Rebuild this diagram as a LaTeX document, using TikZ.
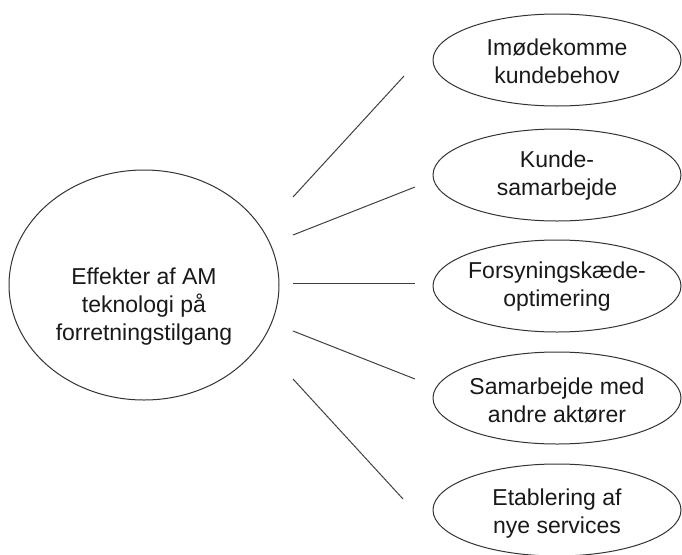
\documentclass[tikz,border=0pt]{standalone}
\usepackage{fontspec}
\setmainfont{Liberation Sans}
\usetikzlibrary{shapes.geometric}
\begin{document}
\begin{tikzpicture}[x=1pt,y=-1pt,
  oval/.style={ellipse,draw=black!80,line width=1pt,inner sep=0pt,minimum width=248pt,minimum height=92pt},
  bigoval/.style={ellipse,draw=black!80,line width=1pt,inner sep=0pt,minimum width=270pt,minimum height=230pt},
  txt/.style={align=center,inner sep=0pt,font=\fontsize{23}{28}\selectfont,text=black!90},
  conn/.style={draw=black!75,line width=1pt}]
\useasboundingbox (0,0) rectangle (682,554);
\node[bigoval] (main) at (144,285) {};
\node[txt] (maintext) at (144,306) {\rule{0pt}{17pt}Effekter af AM\\teknologi på\\forretningstilgang\rule[-5pt]{0pt}{5pt}};
\node[oval] (e1) at (557,60) {};
\node[oval] (e2) at (557,175) {};
\node[oval] (e3) at (557,286) {};
\node[oval] (e4) at (557,398) {};
\node[oval] (e5) at (557,510) {};
\node[txt] (t1) at (557,63) {\rule{0pt}{17pt}Imødekomme\\kundebehov\rule[-5pt]{0pt}{5pt}};
\node[txt] (t2) at (557,175) {\rule{0pt}{17pt}Kunde-\\samarbejde\rule[-5pt]{0pt}{5pt}};
\node[txt] (t3) at (557,286) {\rule{0pt}{17pt}Forsyningskæde-\\optimering\rule[-5pt]{0pt}{5pt}};
\node[txt] (t4) at (557,402) {\rule{0pt}{17pt}Samarbejde med\\andre aktører\rule[-5pt]{0pt}{5pt}};
\node[txt] (t5) at (557,513) {\rule{0pt}{17pt}Etablering af\\nye services\rule[-5pt]{0pt}{5pt}};
\coordinate (a1) at (293,197); \coordinate (b1) at (404,76);
\coordinate (a2) at (293,235); \coordinate (b2) at (415,187);
\coordinate (a3) at (293,283); \coordinate (b3) at (415,283);
\coordinate (a4) at (293,331); \coordinate (b4) at (415,379);
\coordinate (a5) at (293,379); \coordinate (b5) at (403,499);
\draw[conn] (a1) -- (b1);
\draw[conn] (a2) -- (b2);
\draw[conn] (a3) -- (b3);
\draw[conn] (a4) -- (b4);
\draw[conn] (a5) -- (b5);
\end{tikzpicture}
\end{document}
